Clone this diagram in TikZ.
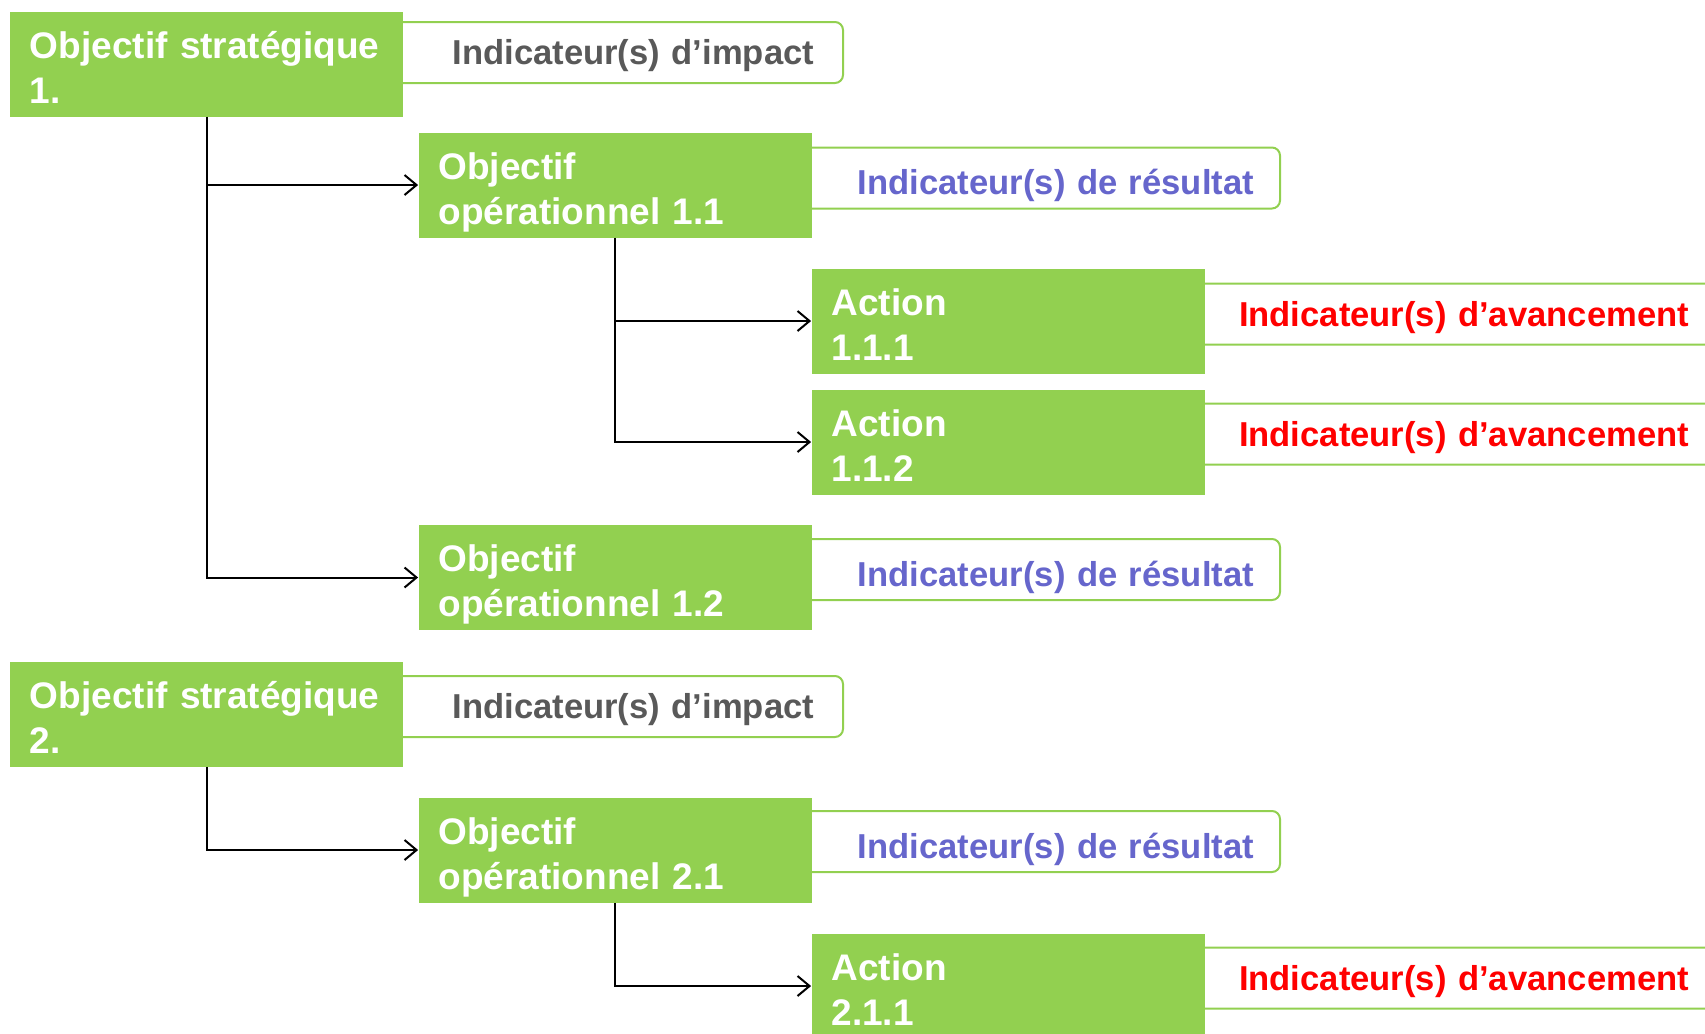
\documentclass[tikz,border=0pt]{standalone}
\usepackage{fontspec}
\setmainfont{Liberation Sans}
\usetikzlibrary{arrows.meta}
\definecolor{vert}{HTML}{92D050}
\definecolor{gris}{HTML}{595959}
\definecolor{bleu}{HTML}{6666CC}
\definecolor{rouge}{HTML}{FF0000}
\newcommand{\deuxlignes}[2]{\rule{0pt}{16.5pt}\mbox{#1}\\\raisebox{0pt}[\height][0pt]{\mbox{#2}}}
\tikzset{
  gbox/.style={rectangle, fill=vert, text=white, font=\fontsize{18.5}{22.5}\selectfont\bfseries,
    minimum width=196.5pt, minimum height=52.5pt, inner xsep=10pt, inner ysep=0pt,
    text width=176.5pt, align=left},
  ind/.style={rectangle, draw=vert, line width=1pt, fill=white, rounded corners=4pt,
    minimum height=30.5pt, inner ysep=0pt, align=right,
    font=\fontsize{17.3}{20}\selectfont\bfseries, text height=14.2pt, text depth=1.8pt},
  impact/.style={ind, text=gris, minimum width=226.5pt, inner xsep=14.5pt, text width=197.5pt},
  resultat/.style={ind, text=bleu, minimum width=240pt, inner xsep=13pt, text width=214pt,
    text height=16.8pt, text depth=0pt},
  avance/.style={ind, text=rouge, minimum width=265pt, inner xsep=15.5pt, text width=234pt},
  conn/.style={draw=black, line width=1pt, -{Straight Barb[length=6pt,width=10pt,line width=1pt]}}
}
\begin{document}
\begin{tikzpicture}[x=0.5pt,y=-0.5pt]
\useasboundingbox (0,0) rectangle (1705,1034);
% indicator boxes
\node[impact]   (ii1) at (616.5,52.5)  {\mbox{Indicateur(s) d’impact}};
\node[resultat] (ir1) at (1040,178)    {\mbox{Indicateur(s) de résultat}};
\node[avance]   (ia1) at (1455,314)    {\mbox{Indicateur(s) d’avancement}};
\node[avance]   (ia2) at (1455,434)    {\mbox{Indicateur(s) d’avancement}};
\node[resultat] (ir2) at (1040,569.5)  {\mbox{Indicateur(s) de résultat}};
\node[impact]   (ii2) at (616.5,706.5) {\mbox{Indicateur(s) d’impact}};
\node[resultat] (ir3) at (1040,841.5)  {\mbox{Indicateur(s) de résultat}};
\node[avance]   (ia3) at (1455,978)    {\mbox{Indicateur(s) d’avancement}};
% green boxes
\node[gbox] (os1)  at (206.5,64)   {\deuxlignes{Objectif stratégique}{1.}};
\node[gbox] (oo11) at (615,185)    {\deuxlignes{Objectif}{opérationnel 1.1}};
\node[gbox] (a111) at (1008,321)   {\deuxlignes{Action}{1.1.1}};
\node[gbox] (a112) at (1008,442)   {\deuxlignes{Action}{1.1.2}};
\node[gbox] (oo12) at (615,577.5)  {\deuxlignes{Objectif}{opérationnel 1.2}};
\node[gbox] (os2)  at (206.5,714)  {\deuxlignes{Objectif stratégique}{2.}};
\node[gbox] (oo21) at (615,850)    {\deuxlignes{Objectif}{opérationnel 2.1}};
\node[gbox] (a211) at (1008,986)   {\deuxlignes{Action}{2.1.1}};
% connectors
\draw[conn] (os1.south) |- (oo11.west);
\draw[conn] (os1.south) |- (oo12.west);
\draw[conn] (oo11.south) |- (a111.west);
\draw[conn] (oo11.south) |- (a112.west);
\draw[conn] (os2.south) |- (oo21.west);
\draw[conn] (oo21.south) |- (a211.west);
\end{tikzpicture}
\end{document}
